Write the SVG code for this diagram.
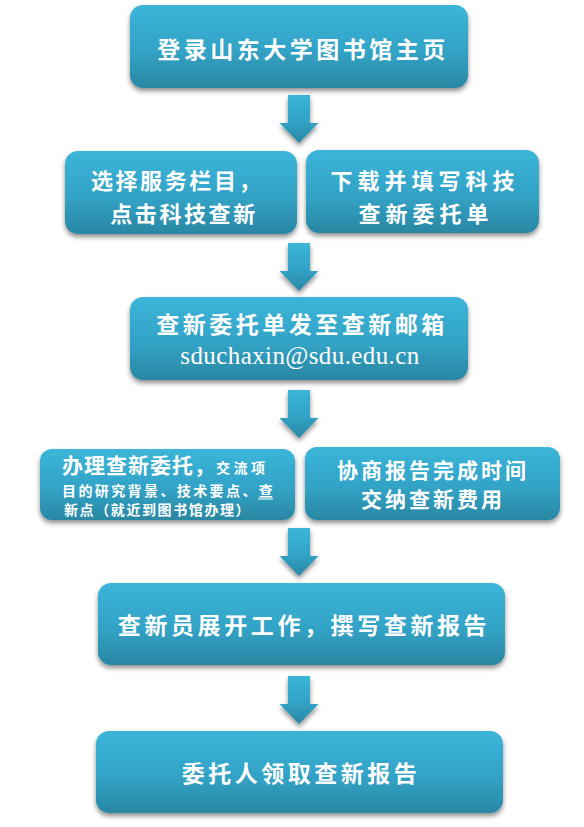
<svg xmlns="http://www.w3.org/2000/svg" width="584" height="827" viewBox="0 0 584 827">
<defs>
<linearGradient id="g" x1="0" y1="0" x2="0" y2="1">
<stop offset="0" stop-color="#3bb5d9"/>
<stop offset="0.55" stop-color="#32a3c6"/>
<stop offset="1" stop-color="#2a87a3"/>
</linearGradient>
<filter id="sh" x="-10%" y="-10%" width="120%" height="140%">
<feDropShadow dx="0" dy="3" stdDeviation="2.5" flood-color="#000" flood-opacity="0.45"/>
</filter>
<path id="arrow" d="M-11,0 H11 V28 H19.5 L0,48 L-19.5,28 H-11 Z"/>
</defs>
<style>
.box{fill:url(#g);filter:url(#sh)}
.t{fill:#fff;font-family:"Noto Sans CJK SC","Noto Sans CJK JP",sans-serif;font-weight:bold;text-anchor:middle}
.e{fill:#fff;font-family:"Liberation Serif",serif;text-anchor:middle}
.arr{fill:url(#g);filter:url(#sh)}
</style>
<rect width="584" height="827" fill="#fff"/>
<g id="connectors">
<use href="#arrow" class="arr" x="299" y="95"/>
<use href="#arrow" class="arr" x="299" y="243"/>
<use href="#arrow" class="arr" x="299" y="390"/>
<use href="#arrow" class="arr" x="299" y="528"/>
<use href="#arrow" class="arr" x="299" y="676"/>
</g>
<g id="n1">
<rect class="box" x="130" y="5" width="338" height="83" rx="13"/>
<text class="t" x="303" y="58" font-size="23" letter-spacing="3.5">登录山东大学图书馆主页</text>
</g>
<g id="n2a">
<rect class="box" x="65" y="151" width="232" height="83" rx="13"/>
<text class="t" x="177" y="189" font-size="22" letter-spacing="2.6">选择服务栏目，</text>
<text class="t" x="184" y="222" font-size="22" letter-spacing="2.6">点击科技查新</text>
</g>
<g id="n2b">
<rect class="box" x="306" y="150" width="233" height="83" rx="13"/>
<text class="t" x="425" y="189" font-size="22" letter-spacing="5">下载并填写科技</text>
<text class="t" x="426" y="222" font-size="22" letter-spacing="5">查新委托单</text>
</g>
<g id="n3">
<rect class="box" x="130" y="297" width="338" height="83" rx="13"/>
<text class="t" x="302" y="333" font-size="23" letter-spacing="3.5">查新委托单发至查新邮箱</text>
<text class="e" x="300" y="364" font-size="25" letter-spacing="0.4">sduchaxin@sdu.edu.cn</text>
</g>
<g id="n4a">
<rect class="box" x="40" y="449" width="255" height="71" rx="12"/>
<text class="t" x="62" y="473" font-size="21" letter-spacing="1" style="text-anchor:start">办理查新委托，<tspan font-size="14" letter-spacing="3.5">交流项</tspan></text>
<text class="t" x="62" y="496" font-size="14" letter-spacing="2.4" style="text-anchor:start">目的研究背景、技术要点、查</text>
<line x1="258" y1="499" x2="273" y2="499" stroke="#fff" stroke-width="1"/>
<text class="t" x="64" y="515" font-size="14" letter-spacing="1.6" style="text-anchor:start">新点（就近到图书馆办理）</text>
</g>
<g id="n4b">
<rect class="box" x="305" y="447" width="255" height="73" rx="12"/>
<text class="t" x="433" y="478" font-size="21" letter-spacing="3">协商报告完成时间</text>
<text class="t" x="433" y="507" font-size="21" letter-spacing="3">交纳查新费用</text>
</g>
<g id="n5">
<rect class="box" x="98" y="583" width="407" height="82" rx="13"/>
<text class="t" x="304" y="634" font-size="23" letter-spacing="3.6">查新员展开工作，撰写查新报告</text>
</g>
<g id="n6">
<rect class="box" x="96" y="731" width="407" height="82" rx="13"/>
<text class="t" x="301" y="782" font-size="23" letter-spacing="3.5">委托人领取查新报告</text>
</g>
</svg>
